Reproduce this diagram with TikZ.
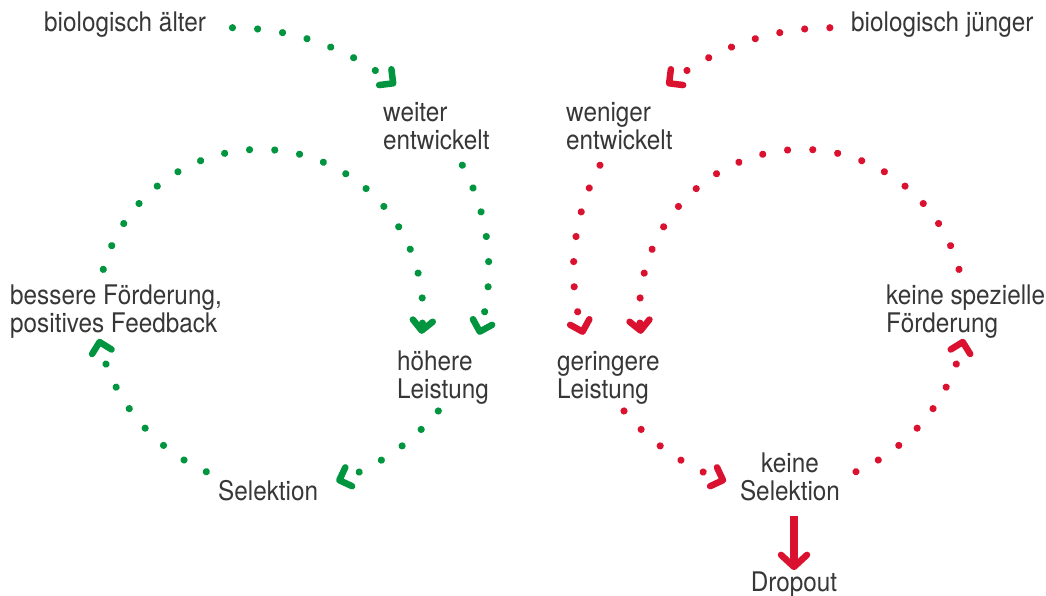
\documentclass[tikz,border=0pt]{standalone}
\usepackage{fontspec}
\setmainfont{TeX Gyre Heros}[FakeStretch=0.9]
\usetikzlibrary{calc,decorations.markings,arrows.meta}
\definecolor{lgreen}{RGB}{0,149,62}
\definecolor{lred}{RGB}{218,18,48}
\definecolor{ink}{RGB}{55,55,55}

\begin{document}
\begin{tikzpicture}[x=1pt,y=-1pt,
  txt/.style={font=\fontsize{27}{28}\selectfont, text=ink, inner sep=0pt, align=left, anchor=base west},
  chev/.style={line width=6.5pt, line cap=round, line join=round},
  dotpath/.style 2 args={decoration={markings,
      mark=between positions 0 and #2 step 25.2pt with {\fill[#1] (0,0) circle (3.6pt);},
      mark=at position -1pt with {\draw[#1,chev] (-9pt,10pt) -- (1pt,0) -- (-9pt,-10pt);}},
      decorate},
  gpath/.style={dotpath={lgreen}{#1}},
  rpath/.style={dotpath={lred}{#1}},
]
\fill[white] (0,0) rectangle (1046,595);
\useasboundingbox (0,0) rectangle (1046,595);

% labels (multi-line nodes sit on the baseline of their last line)
\node[txt] (alt)    at (44,31)   {biologisch älter};
\node[txt] (jung)   at (851,31)  {biologisch jünger};
\node[txt] (weit)   at (383,149) {weiter\\entwickelt};
\node[txt] (wenig)  at (566,149) {weniger\\entwickelt};
\node[txt] (foerd)  at (10,332)  {bessere Förderung,\\positives Feedback};
\node[txt] (keinf)  at (886,332) {keine spezielle\\Förderung};
\node[txt] (hoch)   at (397,398) {höhere\\Leistung};
\node[txt] (gering) at (557,398) {geringere\\Leistung};
\node[txt] (sel)    at (218,500) {Selektion};
\node[txt, align=center, anchor=base] (ksel) at (790,500) {keine\\Selektion};
\node[txt, anchor=base] (drop) at (794,591) {Dropout};

% start points of the dotted arcs
\coordinate (gA) at ($(232,289.2)+(270.1:261.5)$);
\coordinate (gB) at ($(270.4,269.4)+(331.5:218.4)$);
\coordinate (gE) at ($(260.2,312)+(195.2:162.6)$);
\coordinate (gC) at ($(262.5,265)+(39.7:228.5)$);
\coordinate (gD) at ($(282.2,300.5)+(113.9:187.3)$);
\coordinate (rA) at ($(830.3,289.2)+(-90.1:261.5)$);
\coordinate (rB) at ($(791.9,269.4)+(-151.5:218.4)$);
\coordinate (rE) at ($(802.1,312)+(-15.2:162.6)$);
\coordinate (rC) at ($(799.8,265)+(140.3:228.5)$);
\coordinate (rD) at ($(780.1,300.5)+(66.1:187.3)$);

% green cycle
\path[gpath=-21pt]   (gA) arc[start angle=270.1, end angle=308.05, radius=261.5];
\path[gpath=-19.5pt] (gB) arc[start angle=331.5, end angle=376.55, radius=218.4];
\path[gpath=-6.5pt]  (gE) arc[start angle=195.2, end angle=366.55, radius=162.6];
\path[gpath=-20.5pt] (gC) arc[start angle=39.7,  end angle=70.36,  radius=228.5];
\path[gpath=-22pt]   (gD) arc[start angle=113.9, end angle=167.19, radius=187.3];

% red cycle
\path[rpath=-21pt]   (rA) arc[start angle=-90.1,  end angle=-128.05, radius=261.5];
\path[rpath=-19.5pt] (rB) arc[start angle=-151.5, end angle=-196.55, radius=218.4];
\path[rpath=-6.5pt]  (rE) arc[start angle=-15.2,  end angle=-186.55, radius=162.6];
\path[rpath=-20.5pt] (rC) arc[start angle=140.3,  end angle=109.64,  radius=228.5];
\path[rpath=-22pt]   (rD) arc[start angle=66.1,   end angle=12.81,   radius=187.3];

% dropout arrow
\draw[lred, line width=7.5pt, -{Straight Barb[length=12pt, width=26pt, line width=6.5pt, round]}]
  ([yshift=-15pt]ksel.south -| drop.north) -- ([yshift=1pt]drop.north);
\end{tikzpicture}
\end{document}
